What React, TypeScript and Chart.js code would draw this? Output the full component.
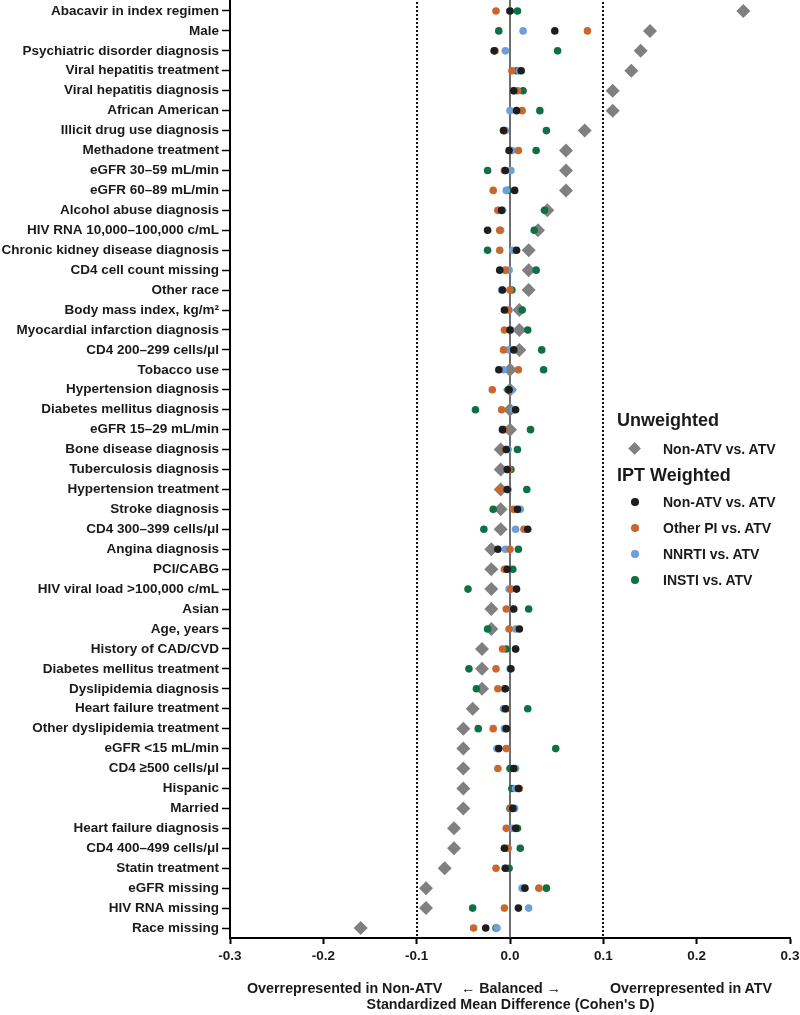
import React, { useEffect, useRef } from 'react';
import { Chart, registerables } from 'chart.js';

Chart.register(...registerables);

const FONT = "'Liberation Sans', Arial, Helvetica, sans-serif";

const CATEGORIES = [
  'Abacavir in index regimen',
  'Male',
  'Psychiatric disorder diagnosis',
  'Viral hepatitis treatment',
  'Viral hepatitis diagnosis',
  'African American',
  'Illicit drug use diagnosis',
  'Methadone treatment',
  'eGFR 30–59 mL/min',
  'eGFR 60–89 mL/min',
  'Alcohol abuse diagnosis',
  'HIV RNA 10,000–100,000 c/mL',
  'Chronic kidney disease diagnosis',
  'CD4 cell count missing',
  'Other race',
  'Body mass index, kg/m²',
  'Myocardial infarction diagnosis',
  'CD4 200–299 cells/μl',
  'Tobacco use',
  'Hypertension diagnosis',
  'Diabetes mellitus diagnosis',
  'eGFR 15–29 mL/min',
  'Bone disease diagnosis',
  'Tuberculosis diagnosis',
  'Hypertension treatment',
  'Stroke diagnosis',
  'CD4 300–399 cells/μl',
  'Angina diagnosis',
  'PCI/CABG',
  'HIV viral load >100,000 c/mL',
  'Asian',
  'Age, years',
  'History of CAD/CVD',
  'Diabetes mellitus treatment',
  'Dyslipidemia diagnosis',
  'Heart failure treatment',
  'Other dyslipidemia treatment',
  'eGFR <15 mL/min',
  'CD4 ≥500 cells/μl',
  'Hispanic',
  'Married',
  'Heart failure diagnosis',
  'CD4 400–499 cells/μl',
  'Statin treatment',
  'eGFR missing',
  'HIV RNA missing',
  'Race missing',
];

// Unweighted: Non-ATV vs. ATV
const UNWEIGHTED = [
  0.25, 0.15, 0.14, 0.13, 0.11, 0.11, 0.08, 0.06, 0.06, 0.06,
  0.04, 0.03, 0.02, 0.02, 0.02, 0.01, 0.01, 0.01, 0.0, 0.0,
  0.0, 0.0, -0.01, -0.01, -0.01, -0.01, -0.01, -0.02, -0.02, -0.02,
  -0.02, -0.02, -0.03, -0.03, -0.03, -0.04, -0.05, -0.05, -0.05, -0.05,
  -0.05, -0.06, -0.06, -0.07, -0.09, -0.09, -0.16,
];

// IPT weighted series
const IPT_NON_ATV = [
  0.0, 0.048, -0.017, 0.012, 0.004, 0.007, -0.007, -0.001, -0.005, 0.005,
  -0.009, -0.024, 0.007, -0.011, -0.008, -0.006, 0.0, 0.004, -0.012, -0.001,
  0.006, -0.008, -0.004, -0.003, -0.003, 0.008, 0.019, -0.013, -0.003, 0.007,
  0.004, 0.01, 0.006, 0.001, -0.005, -0.005, -0.004, -0.012, 0.004, 0.009,
  0.003, 0.006, -0.006, -0.005, 0.016, 0.009, -0.026,
];

const IPT_OTHER_PI = [
  -0.015, 0.083, -0.016, 0.002, 0.008, 0.013, -0.006, 0.009, -0.006, -0.018,
  -0.013, -0.011, -0.011, -0.005, 0.0, -0.002, -0.006, -0.007, 0.009, -0.019,
  -0.009, -0.006, -0.005, -0.001, -0.011, 0.004, 0.015, 0.0, -0.006, 0.001,
  -0.004, -0.001, -0.008, -0.015, -0.013, -0.004, -0.018, -0.004, -0.013, 0.01,
  0.001, -0.004, -0.002, -0.015, 0.031, -0.006, -0.039,
];

const IPT_NNRTI = [
  0.0, 0.014, -0.005, 0.01, 0.004, 0.0, -0.005, 0.002, 0.001, -0.004,
  -0.008, -0.01, 0.003, -0.001, -0.009, -0.001, 0.001, -0.001, -0.007, 0.002,
  0.004, -0.008, -0.002, -0.003, -0.002, 0.011, 0.006, -0.005, -0.005, -0.001,
  0.003, 0.006, 0.006, 0.0, -0.006, -0.007, -0.006, -0.014, 0.006, 0.006,
  0.005, 0.002, -0.005, -0.005, 0.013, 0.02, -0.014,
];

const IPT_INSTI = [
  0.008, -0.012, 0.051, 0.007, 0.014, 0.032, 0.039, 0.028, -0.024, -0.002,
  0.037, 0.026, -0.024, 0.028, 0.002, 0.013, 0.019, 0.034, 0.036, -0.002,
  -0.037, 0.022, 0.008, 0.001, 0.018, -0.018, -0.028, 0.009, 0.003, -0.045,
  0.02, -0.024, -0.004, -0.044, -0.036, 0.019, -0.034, 0.049, 0.0, 0.002,
  0.0, 0.008, 0.011, -0.001, 0.039, -0.04, -0.015,
];

const X_MIN = -0.3;
const X_MAX = 0.3;
const X_STEP = 0.1;
const DOTTED_LINES = [-0.1, 0.1];
const BALANCE_LINE = 0;

const COLORS = {
  unweighted: '#808080',
  nonAtv: '#1e1e1e',
  otherPi: '#c8682e',
  nnrti: '#6d9fd9',
  insti: '#0f7045',
};

const UNWEIGHTED_LEGEND = [{ label: 'Non-ATV vs. ATV', color: COLORS.unweighted }];
const IPT_LEGEND = [
  { label: 'Non-ATV vs. ATV', color: COLORS.nonAtv },
  { label: 'Other PI vs. ATV', color: COLORS.otherPi },
  { label: 'NNRTI vs. ATV', color: COLORS.nnrti },
  { label: 'INSTI vs. ATV', color: COLORS.insti },
];

const toPoints = (vals: number[]) => vals.map((v, i) => ({ x: v, y: CATEGORIES[i] }));

const refLinePlugin = {
  id: 'refLines',
  beforeDatasetsDraw(chart: any) {
    const { ctx, chartArea, scales } = chart;
    const xs = scales.x;
    ctx.save();
    ctx.strokeStyle = '#111';
    ctx.lineWidth = 2;
    ctx.setLineDash([2, 2]);
    for (const v of DOTTED_LINES) {
      const px = Math.round(xs.getPixelForValue(v));
      ctx.beginPath();
      ctx.moveTo(px, 0);
      ctx.lineTo(px, chartArea.bottom);
      ctx.stroke();
    }
    ctx.setLineDash([]);
    ctx.strokeStyle = '#3c3c3c';
    ctx.lineWidth = 1.5;
    const z = xs.getPixelForValue(BALANCE_LINE);
    ctx.beginPath();
    ctx.moveTo(z, 0);
    ctx.lineTo(z, chartArea.bottom);
    ctx.stroke();
    ctx.restore();
  },
};

function dotDataset(label: string, vals: number[], color: string) {
  return {
    label,
    data: toPoints(vals),
    pointStyle: 'circle',
    pointRadius: 3.8,
    pointBackgroundColor: color,
    pointBorderColor: color,
    pointBorderWidth: 0,
    backgroundColor: color,
    borderColor: color,
  };
}

const CANVAS_SHIFT = 6;

export default function App() {
  const canvasRef = useRef<HTMLCanvasElement | null>(null);

  useEffect(() => {
    if (!canvasRef.current) return;
    const chart = new Chart(canvasRef.current, {
      type: 'scatter',
      data: {
        datasets: [
          dotDataset('IPT Non-ATV vs. ATV', IPT_NON_ATV, COLORS.nonAtv),
          dotDataset('IPT Other PI vs. ATV', IPT_OTHER_PI, COLORS.otherPi),
          dotDataset('IPT NNRTI vs. ATV', IPT_NNRTI, COLORS.nnrti),
          dotDataset('IPT INSTI vs. ATV', IPT_INSTI, COLORS.insti),
          {
            label: 'Unweighted Non-ATV vs. ATV',
            data: toPoints(UNWEIGHTED),
            pointStyle: 'rectRot',
            pointRadius: 7,
            pointBackgroundColor: COLORS.unweighted,
            pointBorderColor: COLORS.unweighted,
            pointBorderWidth: 0,
            backgroundColor: COLORS.unweighted,
            borderColor: COLORS.unweighted,
          },
        ],
      },
      options: {
        animation: false,
        responsive: false,
        maintainAspectRatio: false,
        layout: { padding: { top: 0, right: 10, bottom: 0, left: 0 } },
        plugins: {
          legend: { display: false },
          tooltip: { enabled: false },
        },
        scales: {
          x: {
            type: 'linear',
            min: X_MIN,
            max: X_MAX,
            ticks: {
              stepSize: X_STEP,
              callback: (v: any) => (Math.abs(Number(v)) < 1e-9 ? '0.0' : Number(v).toFixed(1)),
              font: { family: FONT, size: 13.5, weight: 'bold' },
              color: '#1a1a1a',
              padding: 4,
            },
            grid: {
              display: true,
              drawOnChartArea: false,
              drawTicks: true,
              tickLength: 6,
              tickColor: '#000',
              tickWidth: 2,
              color: '#000',
            },
            border: { display: true, color: '#000', width: 2 },
            afterFit: (s: any) => {
              s.height = 77;
              s.paddingLeft = 0;
              s.paddingRight = 0;
            },
          },
          y: {
            type: 'category',
            labels: CATEGORIES,
            offset: true,
            ticks: {
              autoSkip: false,
              font: { family: FONT, size: 13.5, weight: 'bold' },
              color: '#1a1a1a',
              padding: 3,
            },
            grid: {
              display: true,
              offset: false,
              drawOnChartArea: false,
              drawTicks: true,
              tickLength: 8,
              tickColor: '#000',
              tickWidth: 1.5,
              color: '#000',
            },
            border: { display: true, color: '#000', width: 2 },
            afterFit: (s: any) => {
              s.width = 230;
              s.paddingTop = 0;
              s.paddingBottom = 0;
            },
          },
        },
      },
      plugins: [refLinePlugin],
    } as any);
    return () => chart.destroy();
  }, []);

  const textStyle = (left: number, cy: number, size: number): React.CSSProperties => ({
    position: 'absolute',
    left,
    top: cy - 12,
    height: 24,
    lineHeight: '24px',
    fontFamily: FONT,
    fontWeight: 'bold',
    fontSize: size,
    color: '#1a1a1a',
    whiteSpace: 'nowrap',
  });

  return (
    <div style={{ position: 'fixed', left: 0, top: 0, width: 800, height: 1015, background: '#fff', overflow: 'hidden' }}>
      <canvas
        ref={canvasRef}
        width={800}
        height={1015 + CANVAS_SHIFT}
        style={{ display: 'block', position: 'absolute', left: 0, top: -CANVAS_SHIFT, width: 800, height: 1015 + CANVAS_SHIFT }}
      />
      <div style={textStyle(617, 420, 18)}>Unweighted</div>
      {UNWEIGHTED_LEGEND.map((item, i) => (
        <React.Fragment key={'u' + i}>
          <div
            style={{
              position: 'absolute',
              left: 635 - 4.6,
              top: 449 - 4.6 + i * 26,
              width: 9.2,
              height: 9.2,
              background: item.color,
              transform: 'rotate(45deg)',
            }}
          />
          <div style={textStyle(663, 449 + i * 26, 14)}>{item.label}</div>
        </React.Fragment>
      ))}
      <div style={textStyle(617, 475, 18)}>IPT Weighted</div>
      {IPT_LEGEND.map((item, i) => (
        <React.Fragment key={'w' + i}>
          <div
            style={{
              position: 'absolute',
              left: 635 - 3.8,
              top: 502 + i * 26 - 3.8,
              width: 7.6,
              height: 7.6,
              borderRadius: '50%',
              background: item.color,
            }}
          />
          <div style={textStyle(663, 502 + i * 26, 14)}>{item.label}</div>
        </React.Fragment>
      ))}
      <div style={textStyle(247, 988, 14.3)}>Overrepresented in Non-ATV</div>
      <div style={textStyle(461, 988, 14.3)}>← Balanced →</div>
      <div style={textStyle(610, 988, 14.3)}>Overrepresented in ATV</div>
      <div style={{ ...textStyle(0, 1004, 14.3), width: 1021, textAlign: 'center' }}>
        Standardized Mean Difference (Cohen's D)
      </div>
    </div>
  );
}
